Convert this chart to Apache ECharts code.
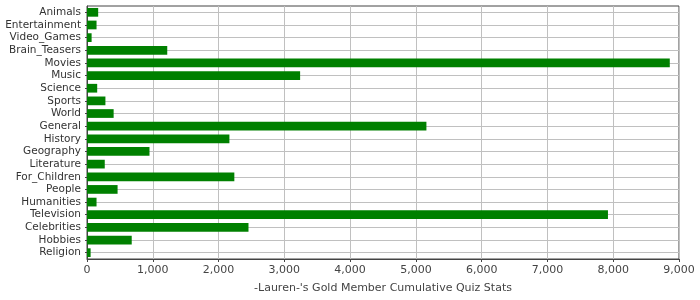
<!DOCTYPE html>
<html><head><meta charset="utf-8">
<script src="https://cdn.jsdelivr.net/npm/echarts@6/dist/echarts.min.js"></script>
<style>html,body{margin:0;padding:0;background:#fff}#c{width:700px;height:300px}</style>
</head><body><div id="c"></div>
<script>
var categories = ["Animals","Entertainment","Video_Games","Brain_Teasers","Movies","Music","Science","Sports","World","General","History","Geography","Literature","For_Children","People","Humanities","Television","Celebrities","Hobbies","Religion"];
var values = [170,145,70,1220,8860,3240,155,280,405,5160,2165,950,270,2240,465,145,7920,2455,680,55];
var xTicks = {min:0, max:9000, interval:1000};
var axisTitle = "-Lauren-'s Gold Member Cumulative Quiz Stats";

var chart = echarts.init(document.getElementById('c'), null, {renderer:'canvas'});
var font = '"DejaVu Sans", sans-serif';
var gridLineData = categories.map(function(c){ return {yAxis:c}; });
chart.setOption({
  animation:false,
  grid:{left:87, right:21, top:6, bottom:41, show:true, borderColor:'#444', borderWidth:1, backgroundColor:'#fff'},
  xAxis:{
    type:'value', min:xTicks.min, max:xTicks.max, interval:xTicks.interval,
    name:axisTitle, nameLocation:'middle', nameGap:24,
    nameTextStyle:{color:'#444', fontFamily:font, fontSize:11},
    axisLine:{show:true, lineStyle:{color:'#444'}},
    axisTick:{show:true, length:3, lineStyle:{color:'#444'}},
    axisLabel:{color:'#444', fontFamily:font, fontSize:11, margin:6,
      formatter:function(v){return v.toLocaleString('en-US');}},
    splitLine:{show:true, lineStyle:{color:'#c0c0c0', width:1}}
  },
  yAxis:{
    type:'category', data:categories, inverse:true,
    axisLine:{show:true, lineStyle:{color:'#444'}},
    axisTick:{show:true, length:2, alignWithLabel:true, lineStyle:{color:'#444'}},
    axisLabel:{color:'#333', fontFamily:font, fontSize:10.5, margin:6, interval:0},
    splitLine:{show:false}
  },
  series:[
    {type:'line', data:[], z:1, silent:true,
     markLine:{silent:true, symbol:'none', z:1, label:{show:false},
       lineStyle:{color:'#c0c0c0', width:1, type:'solid'}, data:gridLineData}},
    {type:'bar', data:values, barCategoryGap:'31%', z:2, itemStyle:{color:'#008000'}}
  ]
});
</script></body></html>
